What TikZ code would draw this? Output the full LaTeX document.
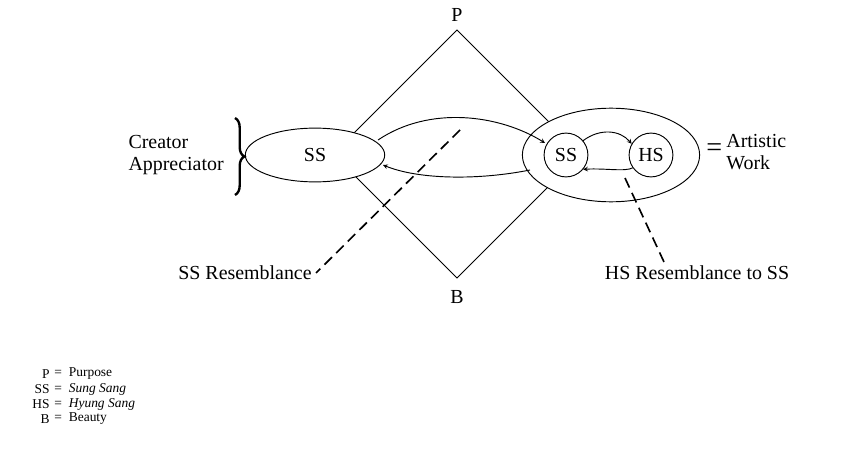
\documentclass[tikz,border=0pt]{standalone}
\usepackage{fontspec}
\setmainfont{Liberation Serif}
\usetikzlibrary{decorations.pathreplacing,shapes.geometric}
\begin{document}
\begin{tikzpicture}[x=0.03cm,y=-0.03cm,>=stealth,thick]
    \tikzstyle{every node}=[font=\fontsize{17}{19}\selectfont];
    \tikzstyle{sang}=[draw,fill=white,shape=ellipse,inner sep=0pt];
    \tikzstyle{sangc}=[draw,circle,minimum size=44*0.85pt,inner sep=0pt];
    \tikzstyle{legend}=[font=\fontsize{11.5}{13}\selectfont,inner sep=0pt];
    \useasboundingbox (0,0) rectangle (846,453);
    \node at (457,15)  (p) {P};
    \node at (457,297) (b) {B};
    \coordinate (top) at (457,30);
    \coordinate (bot) at (457,278);
    \coordinate (lft) at (333,154);
    \coordinate (rgt) at (581,154);
    \draw (top) -- (lft) -- (bot) -- (rgt) -- cycle;
    \node[sang,minimum width=140*0.85pt,minimum height=54*0.85pt] at (315,155) (ss1) {SS};
    \node[sang,minimum width=178*0.85pt,minimum height=94*0.85pt] at (611,155) (work) {};
    \node[sangc] at (566,155) (ss2) {SS};
    \node[sangc] at (651,155) (hs) {HS};
    % loops
    \coordinate (a1) at (378,140);
    \coordinate (a2) at (545,143);
    \draw[->] (a1) .. controls (430,105) and (500,115) .. (a2);
    \coordinate (a3) at (530,170);
    \coordinate (a4) at (383,165);
    \draw[->] (a3) .. controls (480,180) and (420,180) .. (a4);
    \draw[->] (ss2.40) .. controls (600,128) and (620,130) .. (hs.150);
    \draw[->] (hs.215) .. controls (625,172) and (605,168) .. (ss2.-40);
    % resemblances
    \node at (245,273) (ssr) {SS Resemblance};
    \node at (697,273) (hsr) {HS Resemblance to SS};
    \coordinate (d1) at (460,130);
    \coordinate (d2) at (625,178);
    \coordinate (d3) at (664,262);
    \draw[line width=1.4pt,dash pattern=on 9pt off 5pt] (d1) -- (ssr.east);
    \draw[line width=1.4pt,dash pattern=on 9pt off 5pt] (d2) -- (d3);
    % creator
    \node[align=left,anchor=east] at (228,155) (cr) {Creator\\Appreciator};
    \draw[decorate,decoration={brace,amplitude=8pt},line width=2pt] (235,118) -- (235,195);
    \node[anchor=west,font=\fontsize{24}{24}\selectfont] at (702,150) (eq) {=};
    \node[anchor=west,align=left] at (722,152) (aw) {Artistic\\Work};
    % legend
    \node[legend,anchor=east] at (50,374) (lp) {P};
    \node[legend,anchor=east] at (50,389) (lss) {SS};
    \node[legend,anchor=east] at (50,404) (lhs) {HS};
    \node[legend,anchor=east] at (50,419) (lb) {B};
    \node[legend,anchor=west] at (54,374) (tp) {= \ Purpose};
    \node[legend,anchor=west] at (54,389) (tss) {= \ \textit{Sung Sang}};
    \node[legend,anchor=west] at (54,404) (ths) {= \ \textit{Hyung Sang}};
    \node[legend,anchor=west] at (54,419) (tb) {= \ Beauty};
\end{tikzpicture}
\end{document}
